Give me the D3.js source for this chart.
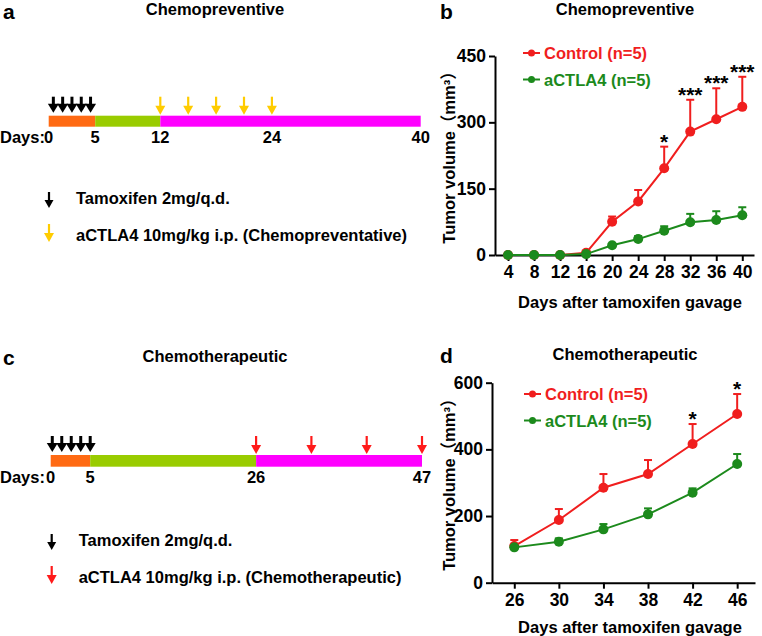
<!DOCTYPE html>
<html>
<head>
<meta charset="utf-8">
<script src="https://cdn.jsdelivr.net/npm/d3@7"></script>
<style>
  body { margin: 0; background: #fff; }
  text { font-family: "Liberation Sans", Arial, "Noto Sans CJK SC", sans-serif; font-weight: bold; }
</style>
</head>
<body>
<script>
// ---- timeline data ----
const phasesA = [0, 5, 12, 40];
const dayTicksA = [0, 5, 12, 24, 40];
const tamoxDaysA = [0.5, 1.5, 2.5, 3.5, 4.5];
const ctlaDaysA = [12, 15, 18, 21, 24];

const phasesC = [0, 5, 26, 47];
const dayTicksC = [0, 5, 26, 47];
const tamoxDaysC = [0.2, 1.4, 2.6, 3.8, 5];
const ctlaDaysC = [26, 33, 40, 47];

// ---- tumor volume data ----
const daysB = [4, 8, 12, 16, 20, 24, 28, 32, 36, 40];
const ctrlB = [0, 0, 0, 5, 75, 121, 196, 279, 307, 335];
const ctrlErrB = [0, 0, 0, 3, 12, 26, 49, 72, 70, 68];
const actB = [0, 0, 0, 2, 22, 36, 55, 74, 79, 90];
const actErrB = [0, 0, 0, 1, 3, 7, 10, 19, 20, 18];
const starsB = ["", "", "", "", "", "", "*", "***", "***", "***"];
const yTicksB = [0, 150, 300, 450];

const daysD = [26, 30, 34, 38, 42, 46];
const ctrlD = [110, 188, 285, 326, 416, 506];
const ctrlErrD = [18, 33, 41, 42, 60, 60];
const actD = [106, 123, 160, 205, 270, 356];
const actErrD = [4, 10, 16, 18, 13, 30];
const starsD = ["", "", "", "", "*", "*"];
const yTicksD = [0, 200, 400, 600];

const RED = "#f01e1e", GREEN = "#1c8a1c";
const phaseColors = ["#ff6a13", "#99cc00", "#ff00ff"];

const svg = d3.select("body").append("svg")
    .attr("width", 762)
    .attr("height", 636);

function arrow(g, x, y0, y1, color, shaft, headW, headL) {
    g.append("line")
        .attr("x1", x).attr("x2", x)
        .attr("y1", y0).attr("y2", y1 - headL + 1)
        .attr("stroke", color).attr("stroke-width", shaft);
    g.append("path")
        .attr("d", `M${x - headW / 2},${y1 - headL}L${x + headW / 2},${y1 - headL}L${x},${y1}Z`)
        .attr("fill", color);
}

function timeline(o) {
    const g = svg.append("g");
    const x = d3.scaleLinear().domain([0, o.phases[o.phases.length - 1]]).range(o.range);

    g.append("text").attr("x", o.labelX).attr("y", o.labelY)
        .attr("font-size", 21).text(o.label);
    g.append("text").attr("x", 215).attr("y", o.titleY)
        .attr("text-anchor", "middle").attr("font-size", 16.5).text(o.title);

    for (let i = 0; i < o.phases.length - 1; i++) {
        g.append("rect")
            .attr("x", x(o.phases[i])).attr("y", o.barY)
            .attr("width", x(o.phases[i + 1]) - x(o.phases[i]))
            .attr("height", o.barH)
            .attr("fill", phaseColors[i]);
    }

    o.tamox.forEach(d => arrow(g, x(d), o.barY - 19, o.barY - 3, "#000", 3, 11, 9));
    o.ctla.forEach(d => arrow(g, x(d), o.barY - 19, o.barY - 1, o.ctlaColor, 2.2, 10, 9));

    const tickY = o.barY + o.barH + 16;
    g.append("text").attr("x", 0).attr("y", tickY).attr("font-size", 16.5).text("Days:");
    g.selectAll(".dt").data(o.ticks).join("text")
        .attr("x", d => x(d)).attr("y", tickY)
        .attr("text-anchor", "middle").attr("font-size", 16.5)
        .text(d => d);

    // legend
    arrow(g, o.legX, o.legY - 12, o.legY + 4, "#000", 2.2, 9, 8);
    g.append("text").attr("x", o.legX + 27).attr("y", o.legY).attr("font-size", 16.5).text("Tamoxifen 2mg/q.d.");
    arrow(g, o.legX, o.legY + 20, o.legY + 38, o.ctlaColor, 2.2, 10, 9);
    g.append("text").attr("x", o.legX + 27).attr("y", o.legY + 37).attr("font-size", 16.5).text(o.ctlaText);
}

function lineChart(o) {
    const g = svg.append("g");
    const x = d3.scaleLinear().domain(o.xDomain).range(o.xRange);
    const y = d3.scaleLinear().domain(o.yDomain).range(o.yRange);

    g.append("text").attr("x", 440).attr("y", o.labelY).attr("font-size", 21).text(o.label);
    g.append("text").attr("x", 625).attr("y", o.titleY)
        .attr("text-anchor", "middle").attr("font-size", 16.5).text(o.title);

    const xa = g.append("g").attr("transform", `translate(0,${o.yRange[0]})`)
        .call(d3.axisBottom(x).tickValues(o.days).tickFormat(d3.format("d"))
            .tickSize(6).tickSizeOuter(0).tickPadding(5));
    const ya = g.append("g").attr("transform", `translate(${o.xRange[0]},0)`)
        .call(d3.axisLeft(y).tickValues(o.yTicks).tickSize(6).tickSizeOuter(0).tickPadding(3));
    [xa, ya].forEach(a => {
        a.select(".domain").attr("stroke", "#000").attr("stroke-width", 2);
        a.selectAll(".tick line").attr("stroke", "#000").attr("stroke-width", 2);
        a.selectAll(".tick text").attr("fill", "#000").attr("font-size", 17.5)
            .style("font-family", "'Liberation Sans', Arial, sans-serif");
    });

    g.append("text").attr("x", 630).attr("y", o.xTitleY)
        .attr("text-anchor", "middle").attr("font-size", 16.5)
        .text("Days after tamoxifen gavage");
    g.append("text")
        .attr("transform", `translate(455,${(o.yRange[0] + o.yRange[1]) / 2 - 2}) rotate(-90)`)
        .attr("text-anchor", "middle").attr("font-size", 16.5)
        .text("Tumor volume（mm³）");

    const series = [
        {vals: o.ctrl, err: o.ctrlErr, color: RED},
        {vals: o.act, err: o.actErr, color: GREEN}
    ];
    series.forEach(s => {
        const pts = o.days.map((d, i) => ({d, v: s.vals[i], e: s.err[i]}));
        const eb = g.append("g");
        pts.filter(p => p.e > 0).forEach(p => {
            eb.append("line").attr("x1", x(p.d)).attr("x2", x(p.d))
                .attr("y1", y(p.v)).attr("y2", y(p.v + p.e))
                .attr("stroke", s.color).attr("stroke-width", 2);
            eb.append("line").attr("x1", x(p.d) - 4).attr("x2", x(p.d) + 4)
                .attr("y1", y(p.v + p.e)).attr("y2", y(p.v + p.e))
                .attr("stroke", s.color).attr("stroke-width", 2);
        });
        g.append("path").datum(pts)
            .attr("fill", "none").attr("stroke", s.color).attr("stroke-width", 2)
            .attr("d", d3.line().x(p => x(p.d)).y(p => y(p.v)));
        g.selectAll(null).data(pts).join("circle")
            .attr("cx", p => x(p.d)).attr("cy", p => y(p.v)).attr("r", 5)
            .attr("fill", s.color);
    });

    o.stars.forEach((s, i) => {
        if (!s) return;
        g.append("text").attr("x", x(o.days[i])).attr("y", y(o.ctrl[i] + o.ctrlErr[i]) + 2)
            .attr("text-anchor", "middle").attr("font-size", 21).text(s);
    });

    // legend
    const leg = [["Control (n=5)", RED], ["aCTLA4 (n=5)", GREEN]];
    leg.forEach(([t, c], i) => {
        const ly = o.legY + i * 26.5;
        g.append("line").attr("x1", o.legX).attr("x2", o.legX + 17)
            .attr("y1", ly).attr("y2", ly).attr("stroke", c).attr("stroke-width", 2);
        g.append("circle").attr("cx", o.legX + 8.5).attr("cy", ly).attr("r", 3.5).attr("fill", c);
        g.append("text").attr("x", o.legX + 21).attr("y", ly + 6)
            .attr("font-size", 16.5).attr("fill", c).text(t);
    });
}

timeline({
    label: "a", labelX: 3, labelY: 19, title: "Chemopreventive", titleY: 15,
    phases: phasesA, ticks: dayTicksA, tamox: tamoxDaysA, ctla: ctlaDaysA,
    range: [48.7, 420.7], barY: 115.7, barH: 11, ctlaColor: "#ffcc00",
    legX: 49, legY: 204, ctlaText: "aCTLA4 10mg/kg i.p. (Chemopreventative)"
});

timeline({
    label: "c", labelX: 3, labelY: 365, title: "Chemotherapeutic", titleY: 362,
    phases: phasesC, ticks: dayTicksC, tamox: tamoxDaysC, ctla: ctlaDaysC,
    range: [50.7, 422], barY: 455, barH: 11.7, ctlaColor: "#ff1a1a",
    legX: 51.7, legY: 546, ctlaText: "aCTLA4 10mg/kg i.p. (Chemotherapeutic)"
});

lineChart({
    label: "b", labelY: 19, title: "Chemopreventive", titleY: 15,
    days: daysB, ctrl: ctrlB, ctrlErr: ctrlErrB, act: actB, actErr: actErrB, stars: starsB,
    xDomain: [2, 41.8], xRange: [495, 754], yDomain: [0, 450], yRange: [255, 56],
    yTicks: yTicksB, xTitleY: 308, legX: 523, legY: 53
});

lineChart({
    label: "d", labelY: 363, title: "Chemotherapeutic", titleY: 360,
    days: daysD, ctrl: ctrlD, ctrlErr: ctrlErrD, act: actD, actErr: actErrD, stars: starsD,
    xDomain: [24, 47.6], xRange: [492, 755], yDomain: [0, 600], yRange: [582.7, 382.7],
    yTicks: yTicksD, xTitleY: 633, legX: 524, legY: 394
});
</script>
</body>
</html>
